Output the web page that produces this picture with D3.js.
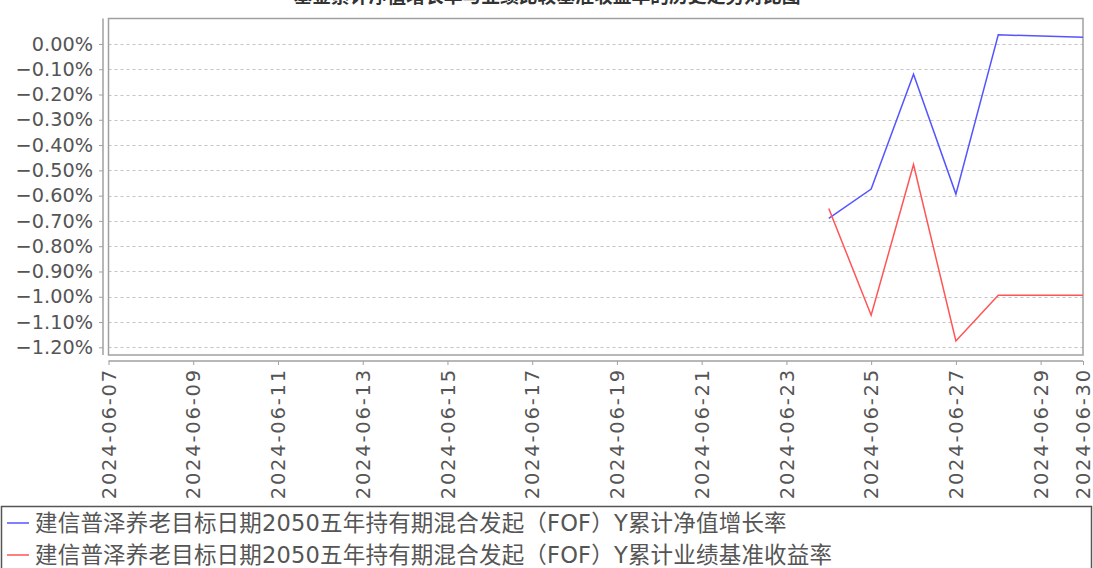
<!DOCTYPE html>
<html>
<head>
<meta charset="utf-8">
<script src="https://cdn.jsdelivr.net/npm/d3@7"></script>
<style>
  html, body { margin: 0; padding: 0; background: #fff; }
  svg { display: block; }
  text { font-family: "DejaVu Sans", "Noto Sans CJK SC", sans-serif; }
</style>
</head>
<body>
<svg id="chart" width="1093" height="568"></svg>
<script>
// ---- data ----
const title = "基金累计净值增长率与业绩比较基准收益率的历史走势对比图";
const dates = ["2024-06-24", "2024-06-25", "2024-06-26", "2024-06-27", "2024-06-28", "2024-06-30"];
const navGrowth = [-0.690, -0.574, -0.120, -0.594, 0.036, 0.027];      // %
const benchmarkReturn = [-0.651, -1.073, -0.477, -1.175, -0.994, -0.994]; // %
const seriesNames = [
  "建信普泽养老目标日期2050五年持有期混合发起（FOF）Y累计净值增长率",
  "建信普泽养老目标日期2050五年持有期混合发起（FOF）Y累计业绩基准收益率"
];
const xTickLabels = ["2024-06-07", "2024-06-09", "2024-06-11", "2024-06-13", "2024-06-15", "2024-06-17",
  "2024-06-19", "2024-06-21", "2024-06-23", "2024-06-25", "2024-06-27", "2024-06-29", "2024-06-30"];
const yTickValues = [0, -0.1, -0.2, -0.3, -0.4, -0.5, -0.6, -0.7, -0.8, -0.9, -1.0, -1.1, -1.2];
const xDomain = ["2024-06-07", "2024-06-30"];
const yDomain = [-1.2304, 0.1007];
const colors = ["#5555ff", "#ff5555"];

// ---- layout ----
const plot = { left: 108.5, right: 1083, top: 18.5, bottom: 355 };
const parse = d3.utcParse("%Y-%m-%d");
const svg = d3.select("#chart");

const x = d3.scaleUtc().domain(xDomain.map(parse)).range([plot.left, plot.right]);
const y = d3.scaleLinear().domain(yDomain).range([plot.bottom, plot.top]);

// title (mostly cut off at top, as in the reference)
svg.append("text")
  .attr("x", 547).attr("y", 3)
  .attr("text-anchor", "middle")
  .attr("font-size", 18.8).attr("font-weight", "bold")
  .attr("fill", "#333")
  .text(title);

// gridlines
svg.append("g").selectAll("line").data(yTickValues).join("line")
  .attr("x1", plot.left).attr("x2", plot.right)
  .attr("y1", d => Math.round(y(d)) + 0.5).attr("y2", d => Math.round(y(d)) + 0.5)
  .attr("stroke", "#c4c4c4").attr("stroke-width", 1).attr("stroke-dasharray", "3,3");

// plot border
svg.append("rect")
  .attr("x", plot.left).attr("y", plot.top)
  .attr("width", plot.right - plot.left).attr("height", plot.bottom - plot.top)
  .attr("fill", "none").attr("stroke", "#a0a0a0").attr("stroke-width", 1.5);

// y axis
const fmt = d3.format(".2%");
const yAxis = d3.axisLeft(y).tickValues(yTickValues)
  .tickFormat(d => fmt(d / 100)).tickSize(4).tickPadding(6);
const gy = svg.append("g").attr("transform", "translate(103,0)").call(yAxis);
gy.select(".domain").attr("stroke", "#a0a0a0").attr("stroke-width", 1.5)
  .attr("d", `M0,${plot.top}V${plot.bottom}`);
gy.selectAll(".tick line").attr("stroke", "#a0a0a0");
gy.selectAll(".tick text").attr("font-size", 19.3).attr("fill", "#555")
  .attr("font-family", "DejaVu Sans");

// x axis
const xAxis = d3.axisBottom(x).tickValues(xTickLabels.map(parse))
  .tickFormat(d3.utcFormat("%Y-%m-%d")).tickSize(4);
const gx = svg.append("g").attr("transform", "translate(0,361)").call(xAxis);
gx.select(".domain").attr("stroke", "#a0a0a0").attr("stroke-width", 1.5)
  .attr("d", `M${plot.left},0H${plot.right}`);
gx.selectAll(".tick line").attr("stroke", "#a0a0a0");
gx.selectAll(".tick text")
  .attr("font-size", 19.5).attr("fill", "#555").attr("font-family", "DejaVu Sans")
  .attr("text-anchor", "end")
  .attr("transform", "rotate(-90)")
  .attr("x", -7).attr("y", 0).attr("dy", "0.34em")
  .attr("letter-spacing", 1.8);

// lines
const series = [navGrowth, benchmarkReturn];
const line = d3.line().x(d => x(d.date)).y(d => y(d.value));
series.forEach((vals, i) => {
  const pts = dates.map((d, j) => ({ date: parse(d), value: vals[j] }));
  svg.append("path").datum(pts)
    .attr("d", line)
    .attr("fill", "none")
    .attr("stroke", colors[i])
    .attr("stroke-width", 1.5);
});

// legend
svg.append("rect")
  .attr("x", 1.5).attr("y", 506.5).attr("width", 1090).attr("height", 70)
  .attr("fill", "none").attr("stroke", "#555").attr("stroke-width", 1.5);
const leg = svg.append("g").selectAll("g").data(seriesNames).join("g")
  .attr("transform", (d, i) => `translate(0,${i === 0 ? 523 : 555})`);
leg.append("line").attr("x1", 7).attr("x2", 29).attr("y1", 0).attr("y2", 0)
  .attr("stroke", (d, i) => colors[i]).attr("stroke-width", 1.5);
leg.append("text").attr("x", 35).attr("y", 0).attr("dy", "0.36em")
  .attr("font-size", 22.5).attr("letter-spacing", 0.2).attr("fill", "#555")
  .text(d => d);
</script>
</body>
</html>
